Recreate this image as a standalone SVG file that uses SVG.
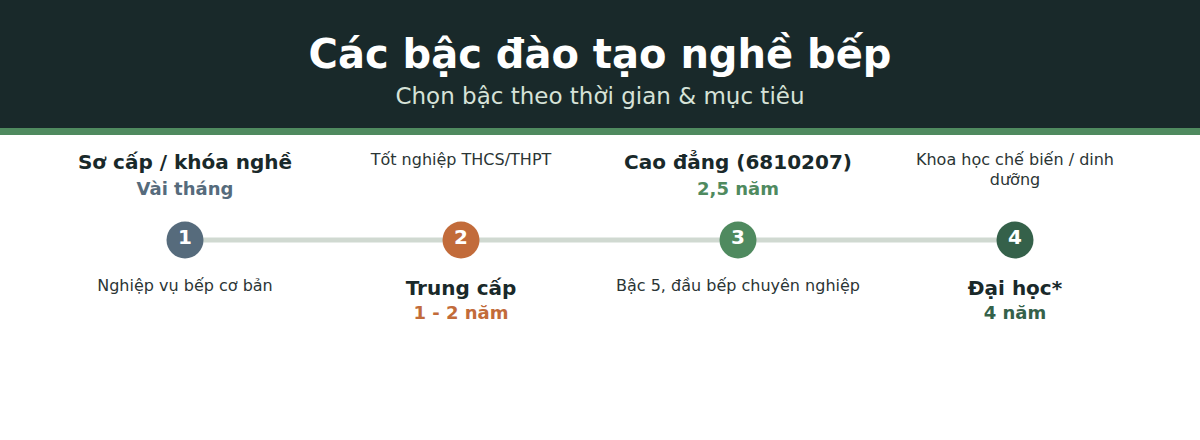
<svg xmlns="http://www.w3.org/2000/svg" width="1200" height="440" viewBox="0 0 1200 440">
<style>
text{font-family:"DejaVu Sans","Noto Sans",sans-serif;text-anchor:middle}
.t{font-size:40px;font-weight:bold;fill:#ffffff}
.st{font-size:23px;fill:#d6e2d8}
.h{font-size:20px;font-weight:bold;fill:#19292a}
.d{font-size:18px;font-weight:bold}
.s{font-size:16px;fill:#2b3535}
.n{font-size:20px;font-weight:bold;fill:#ffffff}
</style>
<rect x="0" y="0" width="1200" height="440" fill="#ffffff"/>
<g id="header">
<rect x="0" y="0" width="1200" height="128" fill="#19292a"/>
<rect x="0" y="128" width="1200" height="7" fill="#4f8a5f"/>
<text class="t" x="600" y="68">Các bậc đào tạo nghề bếp</text>
<text class="st" x="600" y="104">Chọn bậc theo thời gian &amp; mục tiêu</text>
</g>
<g id="connectors">
<line x1="185" y1="240" x2="1015" y2="240" stroke="#d0d9d1" stroke-width="5"/>
</g>
<g id="node1">
<text class="h" x="185" y="169">Sơ cấp / khóa nghề</text>
<text class="d" x="185" y="195" fill="#566b7c">Vài tháng</text>
<circle cx="185" cy="240" r="18.5" fill="#566b7c"/>
<text class="n" x="185" y="244">1</text>
<text class="s" x="185" y="291">Nghiệp vụ bếp cơ bản</text>
</g>
<g id="node2">
<text class="s" x="461" y="165">Tốt nghiệp THCS/THPT</text>
<circle cx="461" cy="240" r="18.5" fill="#c26b3a"/>
<text class="n" x="461" y="244">2</text>
<text class="h" x="461" y="295">Trung cấp</text>
<text class="d" x="461" y="319" fill="#c26b3a">1 - 2 năm</text>
</g>
<g id="node3">
<text class="h" x="738" y="169">Cao đẳng (6810207)</text>
<text class="d" x="738" y="195" fill="#4f8a5f">2,5 năm</text>
<circle cx="738" cy="240" r="18.5" fill="#4f8a5f"/>
<text class="n" x="738" y="244">3</text>
<text class="s" x="738" y="291">Bậc 5, đầu bếp chuyên nghiệp</text>
</g>
<g id="node4">
<text class="s" x="1015" y="165">Khoa học chế biến / dinh</text>
<text class="s" x="1015" y="185">dưỡng</text>
<circle cx="1015" cy="240" r="18.5" fill="#35614a"/>
<text class="n" x="1015" y="244">4</text>
<text class="h" x="1015" y="295">Đại học*</text>
<text class="d" x="1015" y="319" fill="#35614a">4 năm</text>
</g>
</svg>
